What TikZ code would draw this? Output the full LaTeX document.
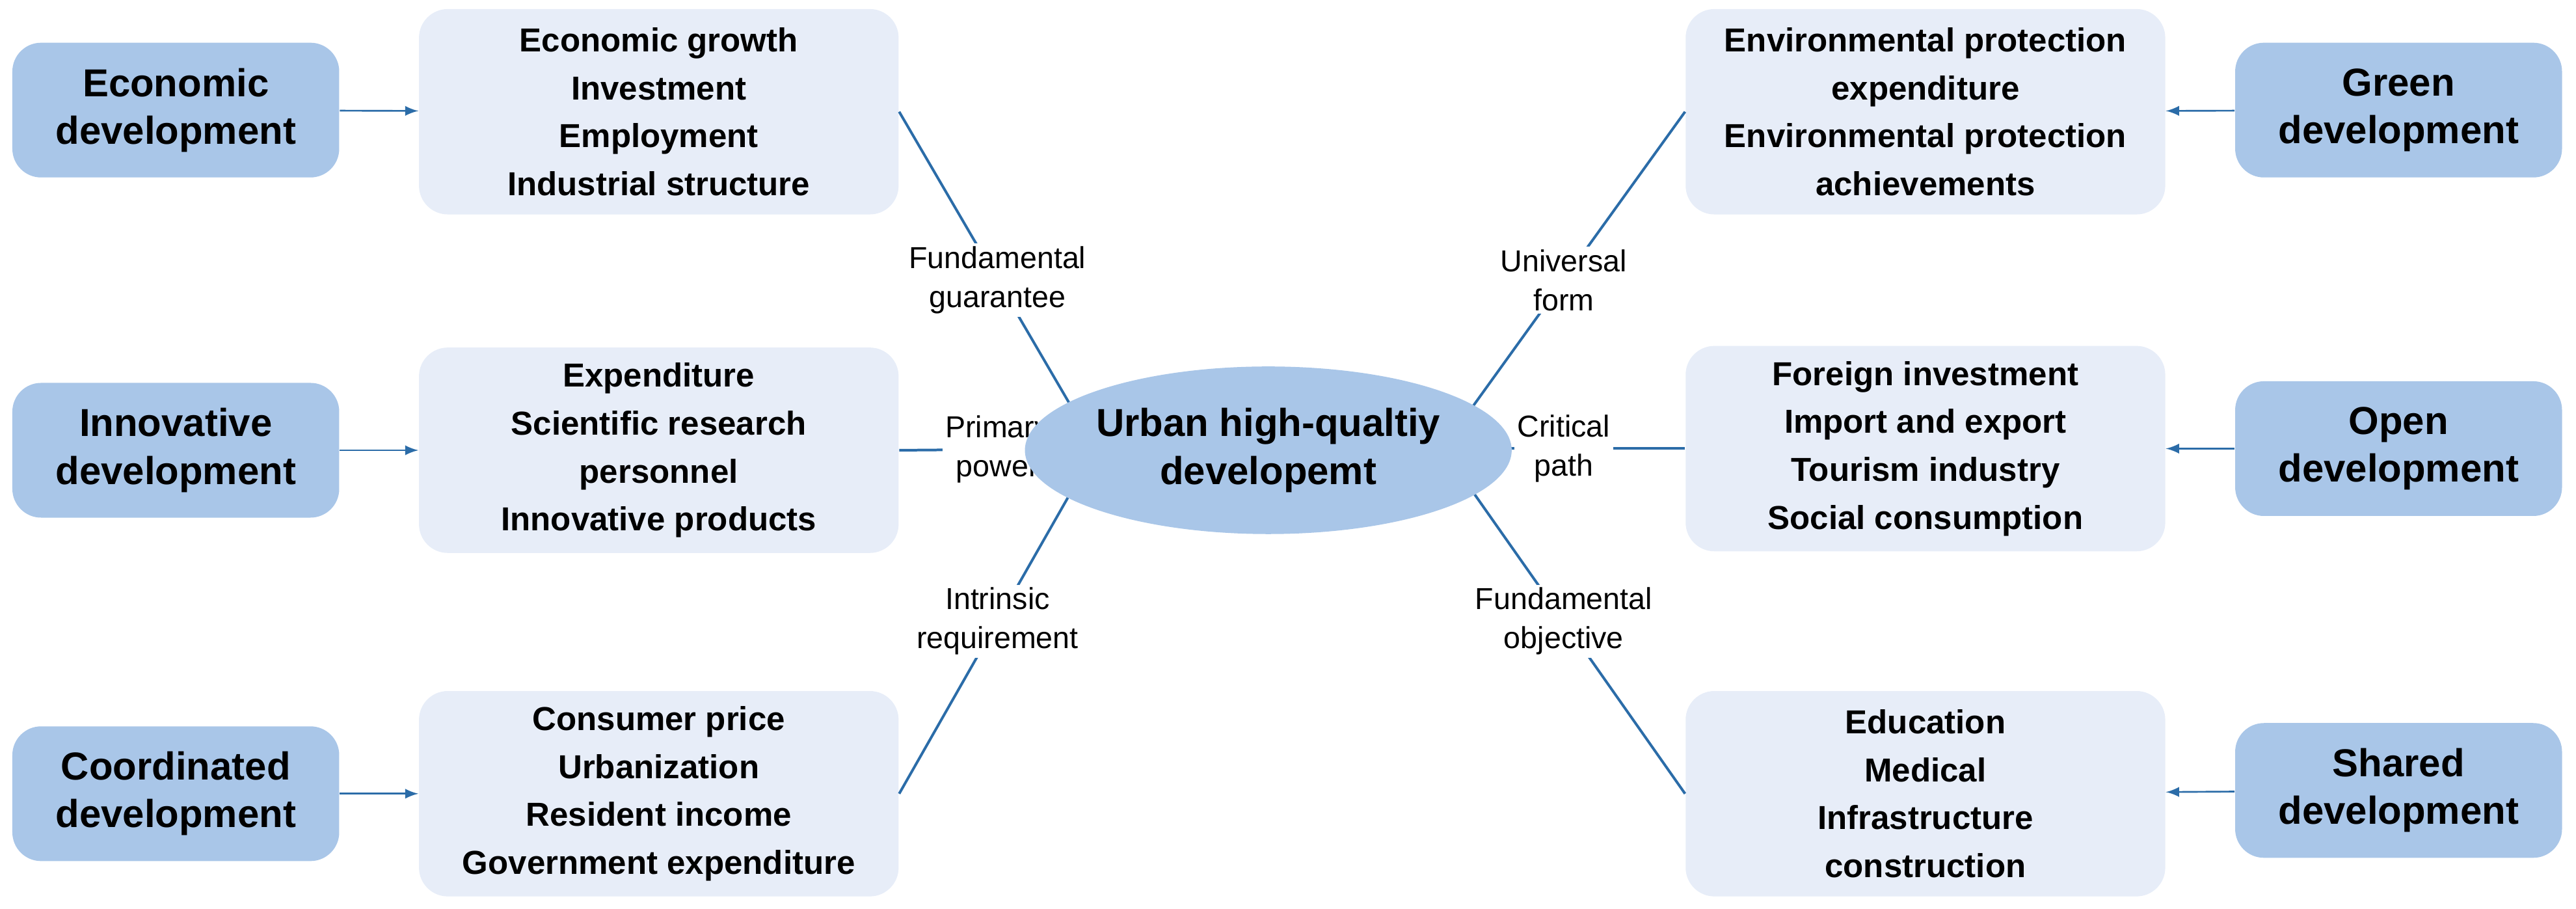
\documentclass[tikz,border=0pt]{standalone}
\usepackage{fontspec}
\setmainfont{Liberation Sans}
\usetikzlibrary{shapes.geometric}
\definecolor{dblue}{HTML}{A9C6E8}
\definecolor{lblue}{HTML}{E7EDF8}
\definecolor{lcol}{HTML}{2B6CA8}
\begin{document}
\begin{tikzpicture}[x=0.02cm,y=-0.02cm,
 outer/.style={fill=dblue,rounded corners=0.35cm,minimum width=3.98cm,minimum height=1.64cm,align=center,font=\fontsize{13.5}{16.5}\selectfont\bfseries},
 inner/.style={fill=lblue,rounded corners=0.35cm,minimum width=5.84cm,minimum height=2.5cm,align=center,font=\fontsize{11.5}{16.6}\selectfont\bfseries},
 arr/.style={draw=lcol,line width=0.6pt,-latex},
 ln/.style={draw=lcol,line width=0.9pt},
 lab/.style={fill=white,inner sep=1pt,align=center,font=\fontsize{10.5}{13.5}\selectfont}]
\useasboundingbox (0,0) rectangle (1568,553);
\node[outer] (ed) at (107,67) {Economic\\development};
\node[outer] (id) at (107,274) {Innovative\\development};
\node[outer] (cd) at (107,483) {Coordinated\\development};
\node[inner] (e) at (401,68) {Economic growth\\Investment\\Employment\\Industrial structure};
\node[inner] (i) at (401,274) {Expenditure\\Scientific research\\personnel\\Innovative products};
\node[inner] (c) at (401,483) {Consumer price\\Urbanization\\Resident income\\Government expenditure};
\node[inner] (g) at (1172,68) {Environmental protection\\expenditure\\Environmental protection\\achievements};
\node[inner] (o) at (1172,273) {Foreign investment\\Import and export\\Tourism industry\\Social consumption};
\node[inner] (s) at (1172,483) {Education\\Medical\\Infrastructure\\construction};
\node[outer] (gd) at (1460,67) {Green\\development};
\node[outer] (od) at (1460,273) {Open\\development};
\node[outer] (sd) at (1460,481) {Shared\\development};
\draw[arr] (ed) -- (e);\draw[arr] (id) -- (i);\draw[arr] (cd) -- (c);
\draw[arr] (gd) -- (g);\draw[arr] (od) -- (o);\draw[arr] (sd) -- (s);
\coordinate (L) at (667,273); \coordinate (R) at (878,273);
\draw[ln] (e.east) -- (L) node[lab,pos=0.5] {Fundamental\\guarantee};
\draw[ln] (i.east) -- (L) node[lab,pos=0.5] {Primary\\power};
\draw[ln] (c.east) -- (L) node[lab,pos=0.5] {Intrinsic\\requirement};
\draw[ln] (g.west) -- (R) node[lab,pos=0.5] {Universal\\form};
\draw[ln] (o.west) -- (R) node[lab,pos=0.5] {Critical\\path};
\draw[ln] (s.west) -- (R) node[lab,pos=0.5] {Fundamental\\objective};
\node[ellipse,fill=dblue,minimum width=4.32cm,minimum height=2.04cm,inner sep=0pt,align=center,font=\fontsize{13.5}{16.5}\selectfont\bfseries] (u) at (772,274) {Urban high-qualtiy\\developemt};
\end{tikzpicture}
\end{document}
